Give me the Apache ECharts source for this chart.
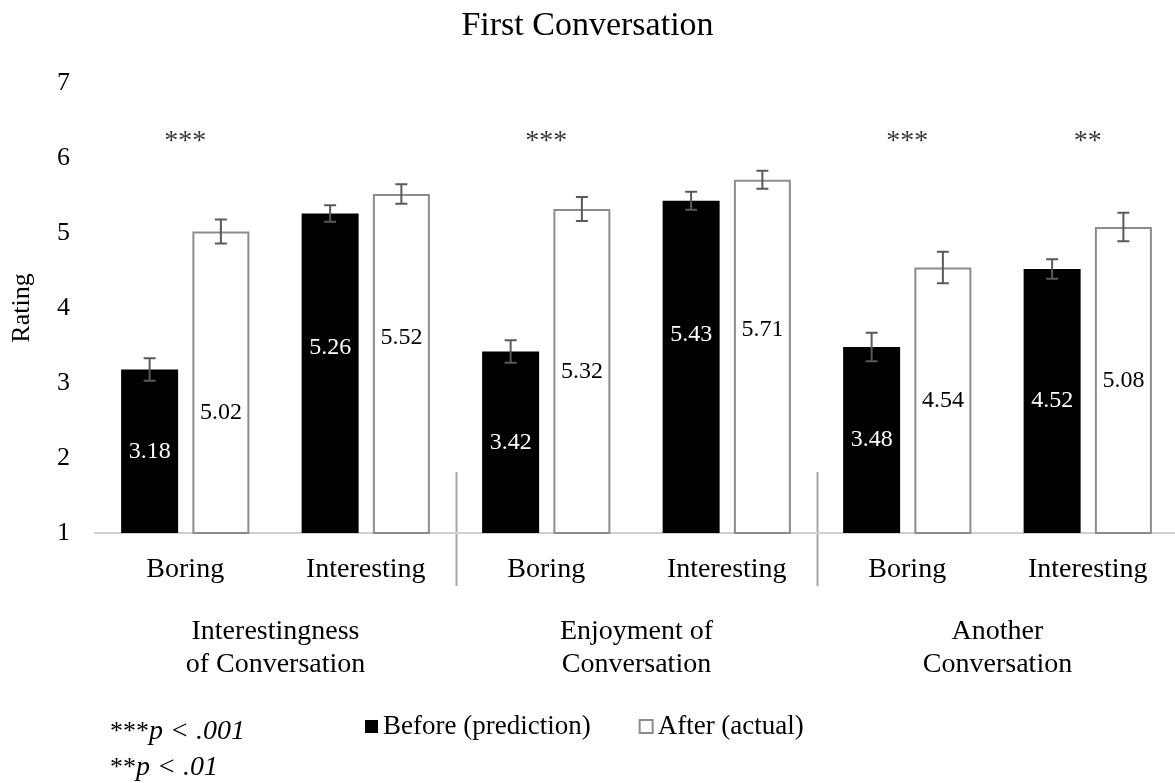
<!DOCTYPE html>
<html>
<head>
<meta charset="utf-8">
<title>First Conversation</title>
<script src="https://cdn.jsdelivr.net/npm/echarts@6/dist/echarts.min.js"></script>
<style>
  html, body { margin: 0; padding: 0; background: #fff; }
  #chart { width: 1175px; height: 783px; }
</style>
</head>
<body>
<div id="chart"></div>
<script>
// Mean ratings per condition, with standard errors
const categories = ['Boring', 'Interesting', 'Boring', 'Interesting', 'Boring', 'Interesting'];
const groups = ['Interestingness\nof Conversation', 'Enjoyment of\nConversation', 'Another\nConversation'];
const before = [3.18, 5.26, 3.42, 5.43, 3.48, 4.52];
const after = [5.02, 5.52, 5.32, 5.71, 4.54, 5.08];
const beforeErr = [0.15, 0.11, 0.15, 0.12, 0.19, 0.13];
const afterErr = [0.16, 0.13, 0.16, 0.12, 0.21, 0.19];
const sigMarks = ['***', '', '***', '', '***', '**'];
const yMin = 1, yMax = 7, yStep = 1;

// ---- styling ----
const FONT = '"Liberation Serif", "Times New Roman", serif';
const BAR_W = 57;
const GAP_RATIO = 0.25;
const SIG_Y = 6.22;
// vertical nudges (px) for the value labels inside the bars
const beforeLabelShift = [0, -26, 0, -32, 0, 0];
const afterLabelShift = [30, -26, 0, -27, 0, 0];

const chart = echarts.init(document.getElementById('chart'), null, { renderer: 'canvas' });

function errorBarSeries(vals, errs, side) {
  return {
    type: 'custom',
    xAxisIndex: 0,
    z: 10,
    silent: true,
    data: vals.map((v, i) => [i, v, errs[i]]),
    renderItem: function (params, api) {
      const shift = side * (BAR_W + BAR_W * GAP_RATIO) / 2;
      const x = api.coord([api.value(0), 0])[0] + shift;
      const yHi = api.coord([api.value(0), api.value(1) + api.value(2)])[1];
      const yLo = api.coord([api.value(0), api.value(1) - api.value(2)])[1];
      const cap = 6;
      const style = { stroke: '#595959', lineWidth: 2 };
      return {
        type: 'group',
        children: [
          { type: 'line', shape: { x1: x, y1: yHi, x2: x, y2: yLo }, style: style },
          { type: 'line', shape: { x1: x - cap, y1: yHi, x2: x + cap, y2: yHi }, style: style },
          { type: 'line', shape: { x1: x - cap, y1: yLo, x2: x + cap, y2: yLo }, style: style }
        ]
      };
    }
  };
}

const option = {
  backgroundColor: '#ffffff',
  animation: false,
  textStyle: { fontFamily: FONT, color: '#000' },
  title: {
    text: 'First Conversation',
    left: 'center',
    top: 4,
    textStyle: { fontFamily: FONT, fontSize: 34, fontWeight: 'normal', color: '#000' }
  },
  legend: {
    data: ['Before (prediction)', 'After (actual)'],
    left: 360,
    top: 708,
    icon: 'rect',
    itemWidth: 13,
    itemHeight: 13,
    itemGap: 48,
    textStyle: { fontFamily: FONT, fontSize: 27, color: '#000' }
  },
  grid: { left: 95, right: -3, top: 83, bottom: 250, outerBoundsMode: 'none' },
  xAxis: [
    {
      type: 'category',
      data: categories,
      position: 'bottom',
      axisLine: { show: true, lineStyle: { color: '#d0d0d0', width: 2 } },
      axisTick: { show: false },
      axisLabel: { interval: 0, margin: 23, fontFamily: FONT, fontSize: 28, color: '#000' },
      splitLine: { show: false }
    },
    {
      type: 'category',
      data: groups,
      position: 'bottom',
      offset: 0,
      axisLine: { show: false },
      axisTick: { show: false },
      axisLabel: { interval: 0, margin: 82, fontFamily: FONT, fontSize: 28, lineHeight: 33, color: '#000' },
      splitLine: { show: false }
    }
  ],
  yAxis: {
    type: 'value',
    min: yMin,
    max: yMax,
    interval: yStep,
    name: 'Rating',
    nameLocation: 'middle',
    nameGap: 60,
    nameTextStyle: { fontFamily: FONT, fontSize: 26, color: '#000' },
    axisLine: { show: false },
    axisTick: { show: false },
    splitLine: { show: false },
    axisLabel: { margin: 25, fontFamily: FONT, fontSize: 26, color: '#000' }
  },
  series: [
    {
      name: 'Before (prediction)',
      type: 'bar',
      xAxisIndex: 0,
      barWidth: BAR_W,
      barGap: (GAP_RATIO * 100) + '%',
      itemStyle: { color: '#000000' },
      label: {
        show: true, position: 'inside', color: '#ffffff',
        fontFamily: FONT, fontSize: 24,
        formatter: p => p.value.toFixed(2)
      },
      data: before.map((v, i) => ({ value: v, label: { offset: [0, beforeLabelShift[i]] } }))
    },
    {
      name: 'After (actual)',
      type: 'bar',
      xAxisIndex: 0,
      barWidth: BAR_W,
      barGap: (GAP_RATIO * 100) + '%',
      itemStyle: { color: '#ffffff', borderColor: '#8c8c8c', borderWidth: 2 },
      label: {
        show: true, position: 'inside', color: '#000000',
        fontFamily: FONT, fontSize: 24,
        formatter: p => p.value.toFixed(2)
      },
      data: after.map((v, i) => ({ value: v, label: { offset: [0, afterLabelShift[i]] } }))
    },
    errorBarSeries(before, beforeErr, -1),
    errorBarSeries(after, afterErr, 1),
    {
      type: 'scatter',
      xAxisIndex: 0,
      symbolSize: 0,
      silent: true,
      z: 12,
      data: sigMarks.map((s, i) => [i, SIG_Y]),
      label: {
        show: true,
        position: 'inside',
        fontFamily: FONT,
        fontSize: 28,
        color: '#000',
        formatter: p => sigMarks[p.dataIndex]
      }
    }
  ]
};

chart.setOption(option);

// Group separators between the three measures, plus the significance footnote
function drawExtras() {
  const base = chart.convertToPixel({ yAxisIndex: 0 }, yMin);
  const seps = [];
  for (let g = 1; g < groups.length; g++) {
    const left = chart.convertToPixel({ xAxisIndex: 0 }, g * 2 - 1);
    const right = chart.convertToPixel({ xAxisIndex: 0 }, g * 2);
    const x = Math.round((left + right) / 2) + 0.5;
    seps.push({
      type: 'line',
      shape: { x1: x, y1: base - 61, x2: x, y2: base + 53 },
      style: { stroke: '#a6a6a6', lineWidth: 2 },
      silent: true
    });
  }
  const note = (stars, rest, top) => ({
    type: 'text',
    left: 110,
    top: top,
    style: {
      text: '{s|' + stars + '}{i|' + rest + '}',
      rich: {
        s: { fontFamily: FONT, fontSize: 26, fill: '#000' },
        i: { fontFamily: FONT, fontSize: 28, fontStyle: 'italic', fill: '#000' }
      }
    }
  });
  chart.setOption({
    graphic: seps.concat([
      note('***', 'p < .001', 718),
      note('**', 'p < .01', 754)
    ])
  });
}
drawExtras();
</script>
</body>
</html>
